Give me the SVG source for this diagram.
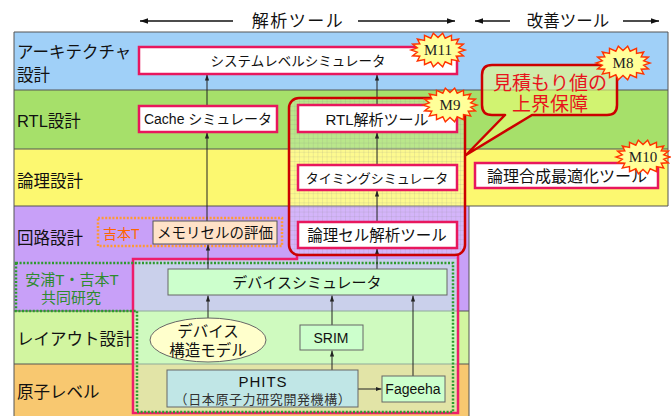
<svg xmlns="http://www.w3.org/2000/svg" xmlns:xlink="http://www.w3.org/1999/xlink" width="671" height="416" viewBox="0 0 671 416">
<style>
text{font-family:"Liberation Sans","Noto Sans CJK JP",sans-serif;dominant-baseline:central;fill:#111}
.c{text-anchor:middle}
.lbl{font-size:16.5px}
.box{fill:#fff;stroke:#e8175d;stroke-width:2.5}
.gbox{fill:#ccffcc;stroke:#666;stroke-width:1}
.row{stroke:#555;stroke-width:1}
.con{stroke:#222;stroke-width:1;fill:none;marker-end:url(#ah)}
.hdr{stroke:#111;stroke-width:1.6;fill:none;marker-end:url(#ha)}
.burst{fill:#ffff99;stroke:#ff3300;stroke-width:1.4}
.mk{font-family:"Liberation Serif",serif;font-size:15px;text-anchor:middle;fill:#222}
</style>
<defs>
<marker id="ah" viewBox="0 0 10 10" refX="10" refY="5" markerWidth="6" markerHeight="6" orient="auto"><path d="M0 1.5L10 5L0 8.5z" fill="#222"/></marker>
<marker id="ha" viewBox="0 0 10 10" refX="10" refY="5" markerWidth="6" markerHeight="5" orient="auto"><path d="M0 1.5L10 5L0 8.5z" fill="#111"/></marker>
<pattern id="grid" width="4.6" height="4.6" patternUnits="userSpaceOnUse"><rect width="4.6" height="4.6" fill="#fff" fill-opacity="0.22"/><path d="M0 0H4.6M0 0V4.6" stroke="#808080" stroke-opacity="0.45" stroke-width="0.6"/></pattern>
<polygon id="burst" class="burst" points="27,0 20.68,2.17 25.37,5.81 18.19,6.25 20.68,10.93 13.5,9.58 13.5,14.72 7.18,11.75 4.69,16.74 0,12.5 -4.69,16.74 -7.18,11.75 -13.5,14.72 -13.5,9.58 -20.68,10.93 -18.19,6.25 -25.37,5.81 -20.68,2.17 -27,0 -20.68,-2.17 -25.37,-5.81 -18.19,-6.25 -20.68,-10.93 -13.5,-9.58 -13.5,-14.72 -7.18,-11.75 -4.69,-16.74 0,-12.5 4.69,-16.74 7.18,-11.75 13.5,-14.72 13.5,-9.58 20.68,-10.93 18.19,-6.25 25.37,-5.81 20.68,-2.17"/>
</defs>

<!-- header -->
<g id="header">
<line class="hdr" x1="233" y1="21" x2="140" y2="21"/>
<text class="c" x="298" y="21" style="font-size:17px;letter-spacing:1.5px">解析ツール</text>
<line class="hdr" x1="358" y1="21" x2="455" y2="21"/>
<line class="hdr" x1="510" y1="21" x2="475" y2="21"/>
<text class="c" x="568" y="21" style="font-size:16.5px">改善ツール</text>
<line class="hdr" x1="623" y1="21" x2="659" y2="21"/>
</g>

<!-- rows -->
<g id="rows">
<rect x="14" y="32" width="654" height="58" fill="#a0d0f8"/>
<rect x="14" y="90" width="654" height="59" fill="#a6e06a"/>
<rect x="14" y="149" width="654" height="57" fill="#fcf870"/>
<rect x="14" y="206" width="455" height="105" fill="#c8a0f8"/>
<rect x="14" y="311" width="455" height="53" fill="#d2f5a0"/>
<rect x="14" y="364" width="455" height="52" fill="#f8c870"/>
<path class="row" d="M14 32H668M14 90H668M14 149H668M14 206H668M14 311H469M14 364H469M14 32V416M469 206V416M668 32V206" fill="none"/>
<rect x="133" y="259" width="325" height="154" fill="#ccffdd" fill-opacity="0.5"/>
</g>

<g id="row-labels">
<text class="lbl" x="17" y="52">アーキテクチャ</text>
<text class="lbl" x="17" y="75">設計</text>
<text class="lbl" x="17" y="121">RTL設計</text>
<text class="lbl" x="17" y="181">論理設計</text>
<text class="lbl" x="17" y="238">回路設計</text>
<text class="lbl" x="17" y="339">レイアウト設計</text>
<text class="lbl" x="17" y="392">原子レベル</text>
</g>

<!-- groupings -->
<g id="groups">
<rect id="grid-area" x="289" y="98" width="176" height="157" rx="10" fill="url(#grid)"/>
<polyline points="297,254 297,259 133,259 133,413 458,413 458,254" fill="none" stroke="#ee1c6a" stroke-width="2.5"/>
<polygon points="16,263 453,263 453,412 137,412 137,311 16,311" fill="none" stroke="#2e9a2e" stroke-width="2.5" stroke-dasharray="2 1.6"/>
<rect x="98" y="218" width="184" height="28" fill="none" stroke="#ff9933" stroke-width="2.5" stroke-dasharray="2 1.6"/>
<text x="72" y="279" class="c" style="font-size:15px;fill:#2e8b2e">安浦T・吉本T</text>
<text x="71" y="297" class="c" style="font-size:15px;fill:#2e8b2e">共同研究</text>
</g>

<!-- connectors -->
<g id="connectors">
<line class="con" x1="207" y1="106" x2="207" y2="74.5"/>
<line class="con" x1="207" y1="221" x2="207" y2="132.5"/>
<line class="con" x1="208" y1="269" x2="208" y2="244.5"/>
<line class="con" x1="377" y1="105" x2="377" y2="74.5"/>
<line class="con" x1="377" y1="165" x2="377" y2="132.5"/>
<line class="con" x1="377" y1="222" x2="377" y2="190.5"/>
<line class="con" x1="377" y1="269" x2="377" y2="248.5"/>
<line class="con" x1="208" y1="318" x2="208" y2="295.5"/>
<line class="con" x1="332" y1="325" x2="332" y2="295.5"/>
<line class="con" x1="332" y1="370" x2="332" y2="350.5"/>
<line class="con" x1="413" y1="376" x2="413" y2="295.5"/>
<line class="con" x1="358" y1="389" x2="381.5" y2="389"/>
</g>

<!-- nodes -->
<g id="n-system"><rect class="box" x="139" y="47" width="318" height="27"/><text class="c" x="298" y="61" style="font-size:13.5px">システムレベルシミュレータ</text></g>
<g id="n-cache"><rect class="box" x="139" y="106" width="138" height="26"/><text class="c" x="208" y="119" style="font-size:14px">Cache シミュレータ</text></g>
<g id="n-rtl"><rect class="box" x="298" y="105" width="159" height="27"/><text class="c" x="377" y="119" style="font-size:15px">RTL解析ツール</text></g>
<g id="n-timing"><rect class="box" x="298" y="165" width="159" height="25"/><text class="c" x="377" y="178" style="font-size:13px">タイミングシミュレータ</text></g>
<g id="n-cell"><rect class="box" x="298" y="222" width="159" height="26"/><text class="c" x="377" y="235" style="font-size:15.5px">論理セル解析ツール</text></g>
<g id="n-synth"><rect class="box" x="475" y="163" width="183" height="25"/><text class="c" x="567" y="176" style="font-size:16px">論理合成最適化ツール</text></g>
<g id="n-memory"><text x="103" y="234" style="font-size:14px;fill:#ff6600">吉本T</text><rect x="153" y="221" width="124" height="23" fill="#ffe2c8" stroke="#555" stroke-width="1"/><text class="c" x="215" y="233" style="font-size:14.5px">メモリセルの評価</text></g>
<g id="n-device"><rect class="gbox" x="168" y="269" width="279" height="26"/><text class="c" x="307" y="282" style="font-size:15px">デバイスシミュレータ</text></g>
<g id="n-model"><ellipse cx="208" cy="340" rx="58" ry="22" fill="#ffffcc" stroke="#666" stroke-width="1"/><text class="c" x="208" y="331" style="font-size:15.5px">デバイス</text><text class="c" x="208" y="350" style="font-size:15.5px">構造モデル</text></g>
<g id="n-srim"><rect class="gbox" x="300" y="325" width="63" height="25"/><text class="c" x="331" y="338" style="font-size:14px">SRIM</text></g>
<g id="n-phits"><rect x="167" y="370" width="191" height="37" fill="#c0e6e6" stroke="#666" stroke-width="1"/><text class="c" x="263" y="381" style="font-size:15px;letter-spacing:1px">PHITS</text><text class="c" x="263" y="399" style="font-size:13px;letter-spacing:0.6px;fill:#333">（日本原子力研究開発機構）</text></g>
<g id="n-fageeha"><rect class="gbox" x="382" y="376" width="63" height="26"/><text class="c" x="413" y="389" style="font-size:14px">Fageeha</text></g>

<g id="red-frame"><rect x="289" y="98" width="176" height="157" rx="10" fill="none" stroke="#cc0000" stroke-width="2.5"/></g>

<!-- callout -->
<g id="callout">
<path d="M492 65H607Q617 65 617 75V105Q617 115 607 115H532L466 155L505 115H492Q482 115 482 105V75Q482 65 492 65Z" fill="#eeff77" fill-opacity="0.6" stroke="#cc0000" stroke-width="2.5" stroke-linejoin="round"/>
<text class="c" x="550" y="83" style="font-size:19px;fill:#e8141c">見積もり値の</text>
<text class="c" x="550" y="104" style="font-size:19px;fill:#e8141c">上界保障</text>
</g>

<!-- markers -->
<g id="m11"><use xlink:href="#burst" x="438" y="50"/><text class="mk" x="438" y="50">M11</text></g>
<g id="m8"><use xlink:href="#burst" x="623" y="63"/><text class="mk" x="623" y="63">M8</text></g>
<g id="m9"><use xlink:href="#burst" x="450" y="105"/><text class="mk" x="450" y="105">M9</text></g>
<g id="m10"><use xlink:href="#burst" x="643" y="157"/><text class="mk" x="643" y="157">M10</text></g>
</svg>
